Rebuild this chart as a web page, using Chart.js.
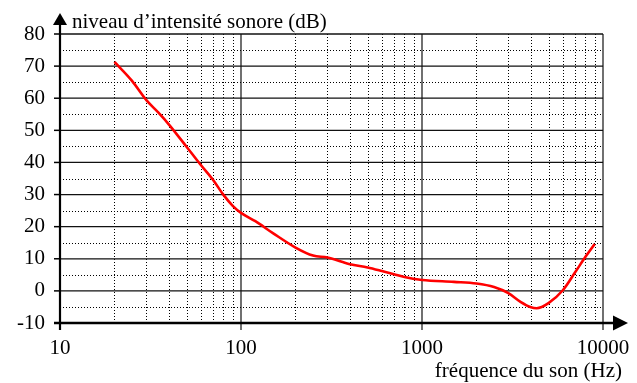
<!DOCTYPE html>
<html><head><meta charset="utf-8">
<script src="https://cdn.jsdelivr.net/npm/chart.js@4/dist/chart.umd.min.js"></script>
<style>html,body{margin:0;padding:0;background:#fff}#wrap{width:637px;height:383px}</style>
</head><body><div id="wrap"><canvas id="c" width="637" height="383"></canvas></div>
<script>
const frequencies = [20, 25, 30, 35, 40, 50, 60, 70, 80, 90, 100, 120, 150, 200, 250, 300, 400, 500, 600, 700, 800, 1000, 1500, 2000, 2500, 3000, 3500, 4000, 4300, 5000, 6000, 7000, 8000, 9000];
const levels =      [71.3, 65.4, 59.4, 55.5, 51.8, 44.9, 39.2, 34.6, 29.9, 26.5, 24.3, 21.7, 18, 13.5, 11, 10.4, 8.3, 7.3, 6.2, 5.2, 4.3, 3.4, 2.8, 2.3, 1.2, -0.7, -3.4, -5.1, -5.4, -3.8, 0.2, 5.7, 10.6, 14.6];
const xTickValues = [10, 100, 1000, 10000];
const xMinorValues = [20, 30, 40, 50, 60, 70, 80, 90, 200, 300, 400, 500, 600, 700, 800, 900, 2000, 3000, 4000, 5000, 6000, 7000, 8000, 9000];
const yTickValues = [-10, 0, 10, 20, 30, 40, 50, 60, 70, 80];
const yMinorValues = [-5, 5, 15, 25, 35, 45, 55, 65, 75];
const yAxisTitle = "niveau d’intensité sonore (dB)";
const xAxisTitle = "fréquence du son (Hz)";

const FONT = "Liberation Serif, Times New Roman, serif";

const gridPlugin = {
  id: 'customGrid',
  beforeDatasetsDraw(chart) {
    const {ctx, chartArea: a, scales: {x, y}} = chart;
    ctx.save();
    ctx.strokeStyle = '#000';
    ctx.lineWidth = 1;
    ctx.setLineDash([1, 2]);
    xMinorValues.forEach(v => {
      const px = Math.round(x.getPixelForValue(v)) + 0.5;
      ctx.beginPath(); ctx.moveTo(px, a.top); ctx.lineTo(px, a.bottom); ctx.stroke();
    });
    yMinorValues.forEach(v => {
      const py = Math.round(y.getPixelForValue(v)) + 0.5;
      ctx.beginPath(); ctx.moveTo(a.left, py); ctx.lineTo(a.right, py); ctx.stroke();
    });
    ctx.setLineDash([]);
    ctx.lineWidth = 1.3;
    ctx.strokeStyle = '#111';
    yTickValues.forEach(v => {
      const py = y.getPixelForValue(v);
      ctx.beginPath(); ctx.moveTo(a.left, py); ctx.lineTo(a.right, py); ctx.stroke();
    });
    ctx.lineWidth = 1.2;
    xTickValues.forEach(v => {
      const px = x.getPixelForValue(v);
      ctx.beginPath(); ctx.moveTo(px, a.top); ctx.lineTo(px, a.bottom + 7); ctx.stroke();
    });
    ctx.restore();
  },
  afterDatasetsDraw(chart) {
    const {ctx, chartArea: a, scales: {x, y}} = chart;
    ctx.save();
    ctx.strokeStyle = '#000';
    ctx.fillStyle = '#000';
    ctx.lineWidth = 1.5;
    yTickValues.forEach(v => {
      const py = y.getPixelForValue(v);
      ctx.beginPath(); ctx.moveTo(a.left - 6, py); ctx.lineTo(a.left, py); ctx.stroke();
    });
    ctx.lineWidth = 2.2;
    ctx.beginPath(); ctx.moveTo(a.left, a.bottom + 7); ctx.lineTo(a.left, 24); ctx.stroke();
    ctx.beginPath(); ctx.moveTo(a.left, 13); ctx.lineTo(a.left - 7, 25); ctx.lineTo(a.left + 7, 25); ctx.closePath(); ctx.fill();
    ctx.lineWidth = 2.6;
    ctx.beginPath(); ctx.moveTo(a.left - 6, a.bottom); ctx.lineTo(614, a.bottom); ctx.stroke();
    ctx.beginPath(); ctx.moveTo(628, a.bottom); ctx.lineTo(613, a.bottom - 7.5); ctx.lineTo(613, a.bottom + 7.5); ctx.closePath(); ctx.fill();
    ctx.font = "21px " + FONT;
    ctx.textBaseline = 'alphabetic';
    ctx.textAlign = 'left';
    ctx.fillText(yAxisTitle, 72, 28);
    ctx.textAlign = 'right';
    ctx.fillText(xAxisTitle, 622, 377);
    ctx.restore();
  }
};

new Chart(document.getElementById('c'), {
  type: 'line',
  data: {
    datasets: [{
      data: frequencies.map((f, i) => ({x: f, y: levels[i]})),
      borderColor: '#ff0000',
      borderWidth: 2.6,
      pointRadius: 0,
      fill: false,
      cubicInterpolationMode: 'monotone'
    }]
  },
  options: {
    responsive: false,
    devicePixelRatio: 1,
    animation: false,
    layout: {padding: {left: 0, top: 34, right: 34, bottom: 0}},
    plugins: {legend: {display: false}, tooltip: {enabled: false}},
    scales: {
      x: {
        type: 'logarithmic',
        min: 10, max: 10000,
        afterFit(s) { s.height = 60; s.paddingLeft = 0; s.paddingRight = 0; },
        afterBuildTicks(s) { s.ticks = xTickValues.map(v => ({value: v})); },
        grid: {display: false, drawTicks: false},
        border: {display: false},
        ticks: {
          autoSkip: false, maxRotation: 0, padding: 13,
          color: '#000', font: {family: FONT, size: 21},
          callback: v => String(v)
        }
      },
      y: {
        min: -10, max: 80,
        afterFit(s) { s.width = 60; s.paddingTop = 0; s.paddingBottom = 0; },
        afterBuildTicks(s) { s.ticks = yTickValues.map(v => ({value: v})); },
        grid: {display: false, drawTicks: false},
        border: {display: false},
        ticks: {
          padding: 15,
          color: '#000', font: {family: FONT, size: 21},
          callback: v => String(v)
        }
      }
    }
  },
  plugins: [gridPlugin]
});
</script>
</body></html>
